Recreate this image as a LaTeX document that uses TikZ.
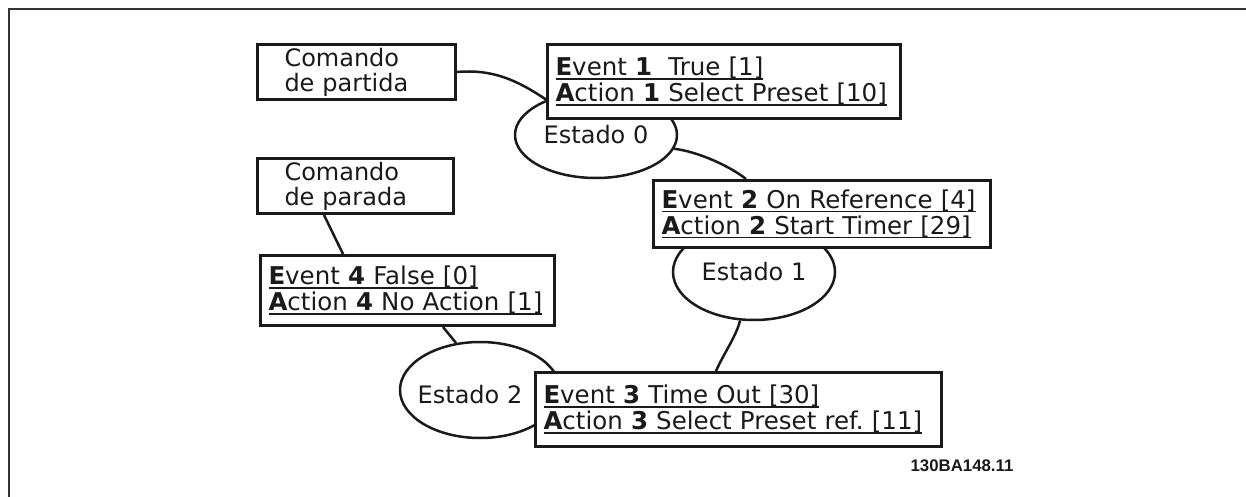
\documentclass[tikz,border=0pt]{standalone}
\usepackage{fontspec}
\setmainfont{DejaVu Sans}
\newfontfamily\idfont{Liberation Sans}
\usepackage{xcolor}
\definecolor{slcLine}{HTML}{1A1A1A}
\definecolor{slcFrame}{HTML}{333333}
\usetikzlibrary{shapes.geometric}
\frenchspacing
\newcommand{\ulin}[1]{\leavevmode\setbox0\hbox{#1}\rlap{\rule[-4pt]{\wd0}{1.6pt}}\box0}
\newcommand{\evtext}[2]{\ulin{#1}\\\ulin{#2}}

\begin{document}
\begin{tikzpicture}[x=1pt,y=-1pt,line width=2.5pt,color=slcLine,
  evbox/.style={draw,line width=3pt,fill=white,anchor=north west,align=left,
    inner xsep=8pt,inner ysep=0pt,font=\fontsize{24.5}{26}\selectfont},
  cmdbox/.style={evbox,inner xsep=27pt,font=\fontsize{24}{25}\selectfont},
  state/.style={draw,ellipse,inner sep=0pt,minimum width=162pt,
    minimum height=86pt,font=\fontsize{24}{25}\selectfont}]
  \useasboundingbox (0,0) rectangle (1246,497);
  \draw[slcFrame,line width=2pt] (9,497) -- (9,9) -- (1246,9);

  \node[state] (st0) at (596,135) {Estado 0};
  \node[state,minimum height=96pt] (st1) at (754,272) {Estado 1};
  \node[state,minimum width=160pt,minimum height=96pt,
    label={[xshift=-10pt,yshift=-5pt,font=\fontsize{24}{25}\selectfont]center:Estado 2}] (st2) at (480,390) {};

  \node[cmdbox,text width=144pt,minimum height=55pt] (partida) at (256,43) {Comando\\de partida};
  \node[cmdbox,text width=142pt,minimum height=55pt] (parada) at (256,157) {Comando\\de parada};
  \node[evbox,text width=337pt,minimum height=74pt] (ev1) at (546,43)
    {\evtext{\textbf{E}vent \textbf{1}\ \ True [1]}{\textbf{A}ction \textbf{1} Select Preset [10]}};
  \node[evbox,text width=321pt,minimum height=67pt] (ev2) at (652,179)
    {\evtext{\textbf{E}vent \textbf{2} On Reference [4]}{\textbf{A}ction \textbf{2} Start Timer [29]}};
  \node[evbox,text width=390pt,minimum height=74pt] (ev3) at (534,371)
    {\evtext{\textbf{E}vent \textbf{3} Time Out [30]}{\textbf{A}ction \textbf{3} Select Preset ref. [11]}};
  \node[evbox,text width=278pt,minimum height=70pt] (ev4) at (259,254)
    {\evtext{\textbf{E}vent \textbf{4} False [0]}{\textbf{A}ction \textbf{4} No Action [1]}};

  \draw (partida.east) .. controls +(35,-3) and +(-30,-20) .. ([yshift=-18pt]ev1.west);
  \draw (st0.-10) .. controls +(25,3) and +(-15,-12) .. ([xshift=94pt]ev2.north west);
  \draw (st1.-106) .. controls +(-4,16) and +(8,-18) .. ([xshift=182pt]ev3.north west);
  \draw ([xshift=68pt]parada.south west) -- ([xshift=84pt]ev4.north west);
  \draw ([xshift=184pt]ev4.south west) -- (st2.117);

  \node[font=\fontsize{16.8}{18}\idfont\bfseries] (figid) at (962,466) {130BA148.11};
\end{tikzpicture}
\end{document}
